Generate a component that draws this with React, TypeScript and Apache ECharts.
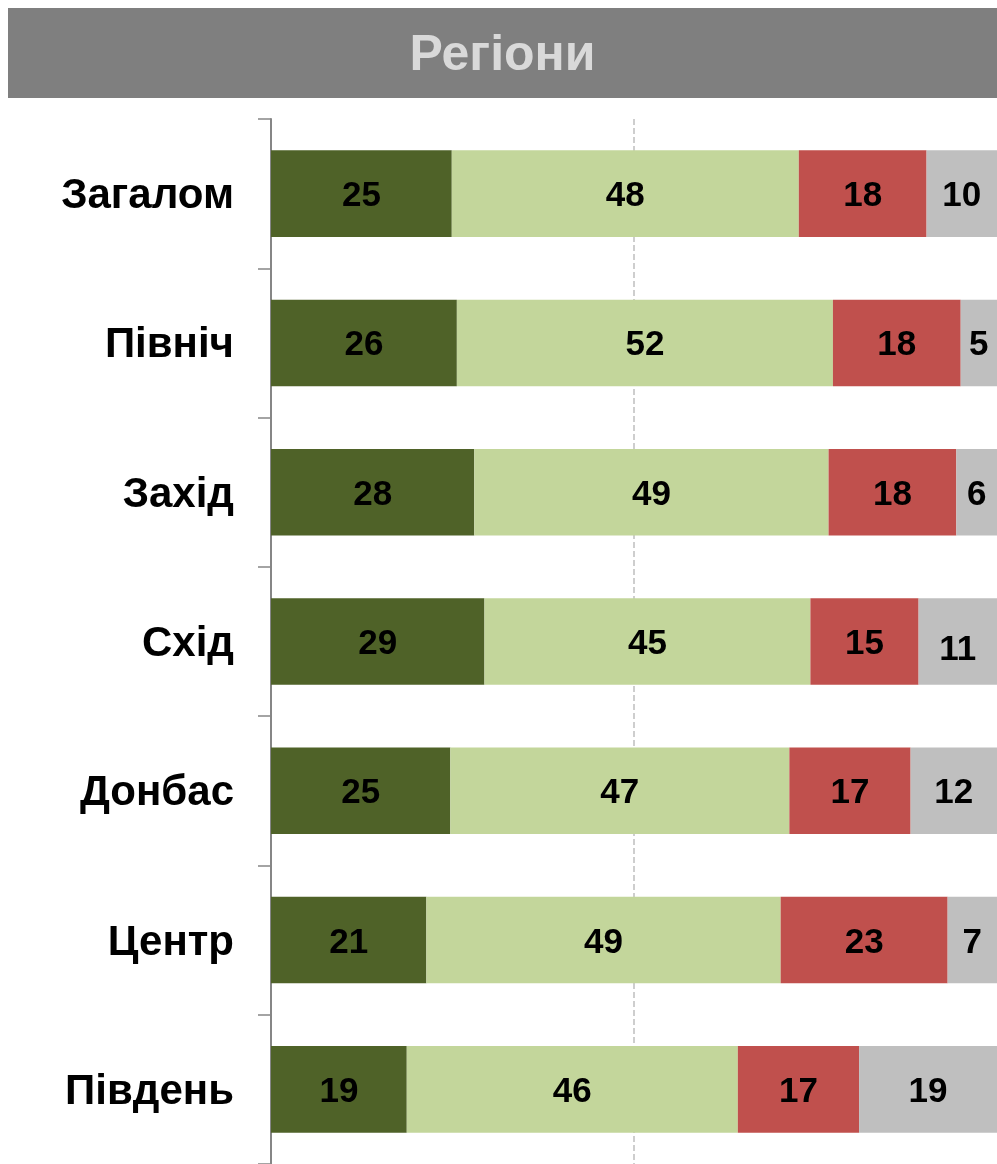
import React, { useEffect, useRef } from "react";
import * as echarts from "echarts";

const categories = ["Загалом", "Північ", "Захід", "Схід", "Донбас", "Центр", "Південь"];
const seriesA = [24.9, 25.6, 28.0, 29.4, 24.7, 21.4, 18.7];
const seriesB = [47.8, 51.8, 48.8, 44.9, 46.7, 48.8, 45.6];
const seriesC = [17.6, 17.6, 17.6, 14.9, 16.7, 23.0, 16.7];
const seriesD = [9.7, 5.0, 5.8, 10.8, 12.0, 6.8, 19.0];
const colors = ["#4F6228", "#C3D69B", "#C0504D", "#BFBFBF"];
const titleText = "Регіони";

export default function App() {
  const ref = useRef<HTMLDivElement>(null);
  useEffect(() => {
    if (!ref.current) return;
    const chart = echarts.init(ref.current, null, { renderer: "svg" });
    const labelStyle = {
      show: true,
      position: "inside",
      color: "#000",
      fontFamily: "Liberation Sans, Arial, sans-serif",
      fontWeight: "bold",
      fontSize: 35,
      formatter: (p: any) => String(Math.round(p.value)),
    };
    const mk = (name: string, data: number[], color: string, extra?: any) => ({
      name,
      type: "bar",
      stack: "total",
      barWidth: "58%",
      data: data.map((v, i) =>
        extra && extra[i] ? { value: v, label: extra[i] } : v
      ),
      itemStyle: { color },
      label: labelStyle,
    });
    chart.setOption({
      animation: false,
      graphic: [
        {
          type: "rect",
          left: 0,
          top: 0,
          shape: { width: 989, height: 90 },
          style: { fill: "#7F7F7F" },
        },
        {
          type: "text",
          left: "center",
          top: 20,
          style: {
            text: titleText,
            fill: "#D9D9D9",
            fontFamily: "Liberation Sans, Arial, sans-serif",
            fontWeight: "bold",
            fontSize: 50,
          },
        },
      ],
      grid: { left: 263, right: 0, top: 111, bottom: 0, containLabel: false },
      xAxis: {
        type: "value",
        min: 0,
        max: 100,
        interval: 50,
        axisLabel: { show: false },
        axisLine: { show: false },
        axisTick: { show: false },
        splitLine: {
          show: true,
          showMinLine: false,
          showMaxLine: false,
          lineStyle: { color: "#BFBFBF", type: [6, 3], width: 1.5 },
        },
      },
      yAxis: {
        type: "category",
        data: categories,
        inverse: true,
        axisLine: { show: true, lineStyle: { color: "#868686", width: 2 } },
        axisTick: {
          show: true,
          length: 13,
          lineStyle: { color: "#868686", width: 1.5 },
        },
        axisLabel: {
          margin: 37,
          color: "#000",
          fontFamily: "Liberation Sans, Arial, sans-serif",
          fontWeight: "bold",
          fontSize: 42,
        },
      },
      series: [
        mk("a", seriesA, colors[0]),
        mk("b", seriesB, colors[1]),
        mk("c", seriesC, colors[2]),
        mk("d", seriesD, colors[3], { 3: { offset: [0, 6] } }),
      ],
    });
    return () => chart.dispose();
  }, []);
  return (
    <div
      ref={ref}
      style={{ position: "fixed", left: 8, top: 8, width: 989, height: 1156 }}
    />
  );
}
